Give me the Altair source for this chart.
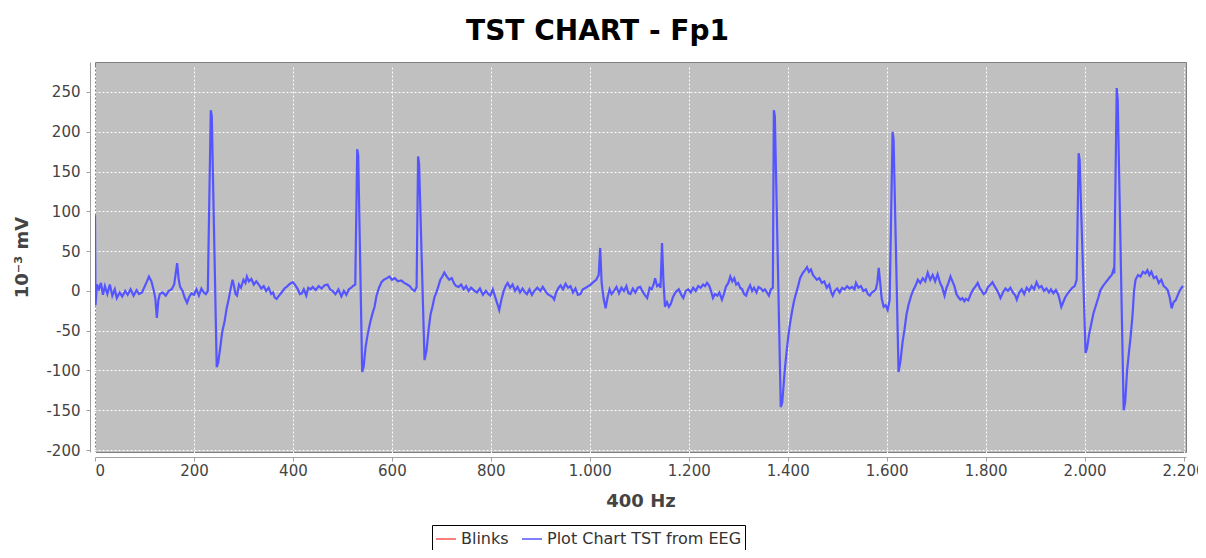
import altair as alt
import pandas as pd

# sample index (400 Hz) and amplitude (10^-3 mV)
x_vals = [0, 1, 4, 8, 12, 16, 20, 25, 30, 35, 40, 44, 50, 55, 61, 66, 72, 78, 84, 89,
          95, 100, 105, 109, 114, 119, 122, 125, 128, 131, 137, 143, 149, 155, 160, 166, 169, 172, 177, 181,
          186, 190, 195, 200, 205, 210, 215, 220, 224, 228, 234, 236, 246, 249, 253, 257, 262, 266, 270, 274,
          278, 281, 284, 287, 291, 295, 300, 304, 307, 311, 316, 321, 326, 331, 336, 341, 346, 351, 356, 360,
          363, 367, 372, 377, 383, 389, 394, 400, 405, 410, 414, 418, 422, 427, 431, 436, 440, 446, 452, 458,
          464, 470, 475, 480, 486, 492, 498, 503, 508, 513, 518, 521, 526, 530, 532, 540, 543, 547, 551, 556,
          561, 565, 569, 574, 579, 584, 590, 595, 600, 606, 612, 619, 625, 631, 636, 641, 646, 650, 653, 655,
          666, 670, 674, 678, 682, 686, 690, 694, 698, 702, 706, 711, 716, 721, 726, 730, 735, 740, 745, 750,
          755, 760, 767, 772, 778, 784, 790, 795, 799, 804, 810, 814, 817, 821, 826, 830, 834, 839, 844, 849,
          854, 859, 864, 868, 873, 878, 883, 888, 894, 900, 905, 910, 915, 920, 925, 928, 932, 937, 941, 946,
          951, 956, 961, 966, 971, 976, 981, 986, 992, 997, 1002, 1007, 1013, 1018, 1021, 1024, 1028, 1032, 1036, 1040,
          1044, 1049, 1054, 1059, 1064, 1069, 1074, 1078, 1082, 1087, 1092, 1097, 1102, 1106, 1111, 1116, 1121, 1125, 1129, 1132,
          1136, 1140, 1143, 1146, 1149, 1152, 1156, 1160, 1164, 1168, 1172, 1176, 1180, 1185, 1189, 1194, 1199, 1204, 1209, 1214,
          1219, 1224, 1229, 1233, 1237, 1241, 1245, 1249, 1253, 1258, 1262, 1267, 1271, 1275, 1280, 1284, 1288, 1292, 1296, 1300,
          1304, 1308, 1312, 1316, 1320, 1324, 1328, 1332, 1337, 1341, 1346, 1350, 1354, 1358, 1362, 1366, 1370, 1372, 1374, 1386,
          1389, 1394, 1398, 1401, 1405, 1409, 1413, 1417, 1421, 1425, 1430, 1435, 1439, 1443, 1447, 1451, 1455, 1459, 1464, 1469,
          1474, 1479, 1484, 1488, 1491, 1495, 1500, 1505, 1510, 1515, 1520, 1525, 1530, 1535, 1538, 1543, 1548, 1553, 1558, 1562,
          1566, 1570, 1575, 1578, 1581, 1584, 1587, 1590, 1594, 1598, 1602, 1606, 1612, 1614, 1624, 1628, 1632, 1636, 1640, 1644,
          1649, 1653, 1658, 1663, 1668, 1673, 1678, 1683, 1688, 1693, 1698, 1703, 1708, 1712, 1717, 1721, 1725, 1729, 1733, 1737,
          1741, 1745, 1749, 1753, 1757, 1760, 1765, 1770, 1775, 1780, 1784, 1788, 1792, 1796, 1800, 1805, 1810, 1814, 1818, 1822,
          1826, 1830, 1835, 1840, 1845, 1850, 1855, 1860, 1863, 1868, 1873, 1878, 1883, 1888, 1893, 1898, 1903, 1908, 1913, 1918,
          1923, 1928, 1932, 1937, 1942, 1947, 1950, 1953, 1957, 1961, 1965, 1970, 1975, 1980, 1984, 1988, 1990, 2002, 2005, 2009,
          2014, 2018, 2023, 2028, 2032, 2037, 2042, 2047, 2052, 2055, 2058, 2060, 2065, 2067, 2079, 2082, 2086, 2090, 2093, 2097,
          2100, 2103, 2108, 2113, 2118, 2123, 2127, 2131, 2135, 2140, 2145, 2150, 2155, 2160, 2164, 2168, 2172, 2176, 2180, 2184,
          2188, 2192, 2196, 2199]

y_vals = [95, -18, 8, 2, 10, -5, 6, -4, 8, -6, 2, -9, -2, -7, 0, -5, 2, -6, 1, -4,
          -2, 5, 12, 18, 12, 0, -10, -34, -12, -4, -2, -6, 0, 2, 8, 35, 15, 5, 0, -8,
          -15, -8, -3, -5, 2, -6, 3, -2, -4, 0, 227, 220, -96, -90, -72, -52, -38, -22, -11, 2,
          14, 6, -4, -6, 8, 4, 14, 10, 18, 12, 15, 8, 12, 8, 3, 6, 0, 4, -4, -2,
          -8, -10, -6, -2, 3, 6, 9, 11, 7, 2, -4, -3, 2, -6, 4, 2, 5, 1, 6, 3,
          7, 8, 2, 0, -4, 2, -7, 0, -5, 2, 4, 6, 8, 178, 170, -102, -95, -70, -55, -40,
          -28, -20, -6, 4, 11, 14, 16, 18, 14, 16, 12, 13, 10, 8, 6, 2, 0, 5, 169, 160,
          -87, -75, -50, -30, -20, -8, -2, 6, 14, 18, 23, 18, 14, 16, 9, 6, 5, 8, 2, 6,
          0, 4, 0, -2, 3, -5, 0, -4, -6, 2, -10, -18, -24, -12, 0, 6, 10, 4, 8, 0,
          5, -2, 3, -1, -4, 2, -5, 0, 4, 0, 5, 0, -4, -6, -8, -11, -2, 4, 7, 2,
          9, 4, 6, -2, 3, -5, -4, 2, 4, 6, 8, 11, 14, 20, 54, 10, -10, -22, -8, 2,
          -4, 0, 5, -3, 4, 0, 6, -3, -4, 3, -2, 4, 5, 0, -5, -9, 4, 2, 8, 16,
          6, 8, 4, 60, 10, -20, -14, -20, -16, -8, -3, 0, 2, -5, -9, 0, 2, -2, 4, 0,
          6, 4, 8, 6, 10, 7, 0, -9, -4, -6, -2, -11, -4, 5, 10, 18, 12, 16, 8, 10,
          4, 2, -4, -6, 2, 7, 0, 4, -2, 5, 3, 0, 2, -2, -6, 2, 4, 227, 220, -146,
          -140, -100, -75, -58, -40, -25, -12, -3, 6, 16, 22, 26, 30, 24, 27, 20, 17, 14, 16, 10,
          12, 4, 8, -2, -6, 0, 3, -2, 4, 2, 6, 3, 5, 2, 10, 4, 6, 0, 2, -4,
          -6, -2, 0, 2, 10, 29, 10, -10, -20, -18, -24, -12, 200, 190, -102, -88, -65, -49, -30, -18,
          -7, 0, 6, 14, 10, 16, 12, 23, 14, 20, 12, 21, 10, 5, -6, 4, 10, 18, 12, 6,
          -4, -8, -11, -9, -13, -10, -12, -4, 2, 6, 10, 4, 0, -4, -2, 5, 8, 11, 6, 2,
          -3, -9, -2, 3, 0, 4, -2, -6, -11, -2, 2, -4, 4, 0, 6, 2, 11, 4, 6, 0,
          3, -2, 2, -3, 1, -5, -12, -20, -14, -8, -4, 0, 4, 6, 14, 173, 165, -78, -72, -55,
          -40, -28, -18, -8, 1, 6, 10, 14, 18, 20, 26, 22, 255, 240, -150, -140, -100, -75, -58, -30,
          0, 14, 20, 18, 24, 22, 26, 20, 24, 16, 18, 10, 14, 6, 4, 1, -8, -22, -14, -12,
          -6, 0, 4, 6]

series_names = ["Blinks", "Plot Chart TST from EEG"]
series_colors = ["#FF5555", "#5555FF"]
x_ticks = list(range(0, 2201, 200))
y_ticks = list(range(-200, 251, 50))

df = pd.DataFrame({"x": x_vals, "y": y_vals, "series": series_names[1]})

FONT = "DejaVu Sans"

chart = (
    alt.Chart(df)
    .mark_line(strokeWidth=2.2, clip=True)
    .encode(
        x=alt.X(
            "x:Q",
            scale=alt.Scale(domain=[0, 2205], nice=False, zero=False),
            axis=alt.Axis(
                values=x_ticks,
                title="400 Hz",
                labelExpr="replace(format(datum.value, ','), ',', '.')",
                titlePadding=14,
            ),
        ),
        y=alt.Y(
            "y:Q",
            scale=alt.Scale(domain=[-202.5, 287.7], nice=False, zero=False),
            axis=alt.Axis(
                values=y_ticks,
                title="10⁻³ mV",
                labelExpr="'' + datum.value",
                labelPadding=6,
                titlePadding=14,
            ),
        ),
        color=alt.Color(
            "series:N",
            scale=alt.Scale(domain=series_names, range=series_colors),
            legend=alt.Legend(
                title=None,
                orient="none",
                legendX=337,
                legendY=463,
                direction="horizontal",
                strokeColor="black",
                fillColor="white",
                padding=3,
                labelFont=FONT,
                labelFontSize=16,
                labelColor="#333333",
                labelLimit=0,
                symbolType="stroke",
                symbolStrokeWidth=1.5,
                symbolSize=400,
                columnPadding=10,
                labelOffset=4,
            ),
        ),
    )
    .properties(
        width=1091,
        height=390,
        title=alt.TitleParams(
            "TST CHART - Fp1",
            font=FONT,
            fontSize=28,
            fontWeight="bold",
            color="black",
            anchor="middle",
            dx=-43,
            offset=16,
        ),
        autosize=alt.AutoSizeParams(type="none"),
        padding={"left": 87, "top": 54, "right": 12, "bottom": 98},
    )
    .configure_view(fill="#C0C0C0", stroke="#808080", strokeWidth=1)
    .configure_axis(
        grid=True,
        gridColor="white",
        gridDash=[2, 2],
        gridOpacity=1,
        gridWidth=1,
        domainColor="#A0A0A0",
        tickColor="#A0A0A0",
        tickSize=4,
        offset=5,
        labelColor="#444444",
        labelFont=FONT,
        labelFontSize=15,
        titleFont=FONT,
        titleFontSize=18,
        titleFontWeight="bold",
        titleColor="#444444",
    )
)

chart.save("out.html", embed_options={"renderer": "svg", "actions": False})
